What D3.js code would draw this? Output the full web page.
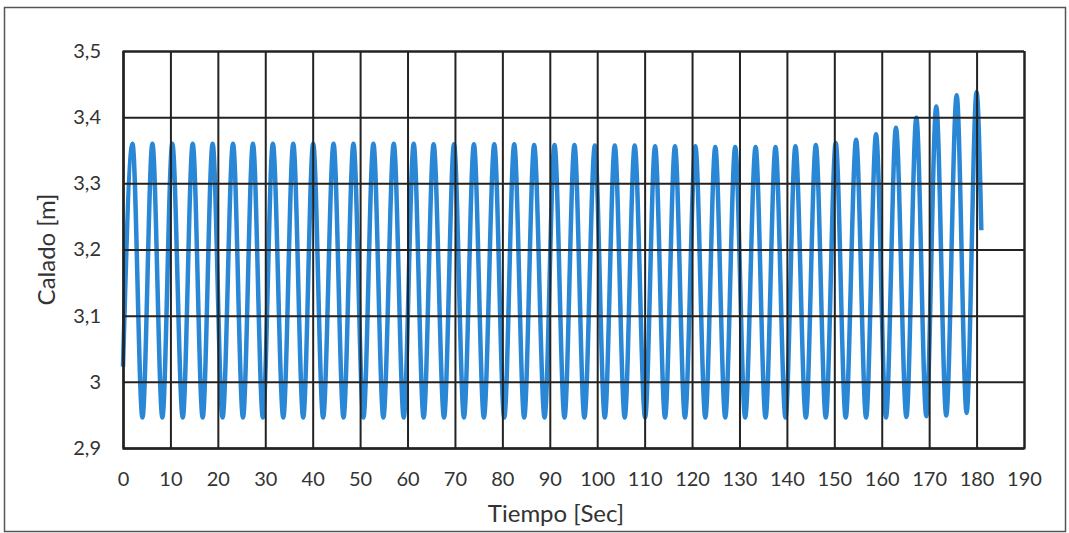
<!DOCTYPE html>
<html>
<head>
<meta charset="utf-8">
<script src="https://cdn.jsdelivr.net/npm/d3@7"></script>
<style>
body{margin:0;background:#fff;}
</style>
</head>
<body>
<div id="chart"></div>
<script>
// values (seconds, metres)
const peakTimes = [2.0, 6.2, 10.4, 14.7, 18.9, 23.2, 27.4, 31.6, 35.9, 40.1,
                   44.4, 48.6, 52.8, 57.1, 61.3, 65.5, 69.8, 74.0, 78.3, 82.5,
                   86.7, 91.0, 95.2, 99.5, 103.7, 107.9, 112.2, 116.4, 120.7, 124.9,
                   129.1, 133.4, 137.6, 141.8, 146.1, 150.3, 154.6, 158.8, 163.0, 167.3,
                   171.5, 175.8, 180.0]
const peakValues = [3.360, 3.360, 3.360, 3.360, 3.360, 3.360, 3.360, 3.360, 3.360, 3.360,
                    3.360, 3.360, 3.360, 3.360, 3.360, 3.359, 3.359, 3.359, 3.359, 3.359,
                    3.358, 3.358, 3.358, 3.357, 3.357, 3.357, 3.356, 3.356, 3.356, 3.355,
                    3.355, 3.355, 3.355, 3.356, 3.358, 3.361, 3.366, 3.374, 3.384, 3.399,
                    3.416, 3.433, 3.438]
const troughTimes = [4.1, 8.3, 12.6, 16.8, 21.0, 25.3, 29.5, 33.8, 38.0, 42.2,
                     46.5, 50.7, 54.9, 59.2, 63.4, 67.7, 71.9, 76.1, 80.4, 84.6,
                     88.9, 93.1, 97.3, 101.6, 105.8, 110.1, 114.3, 118.5, 122.8, 127.0,
                     131.2, 135.5, 139.7, 144.0, 148.2, 152.4, 156.7, 160.9, 165.2, 169.4,
                     173.6, 177.9]
const troughValues = [2.946, 2.946, 2.946, 2.946, 2.946, 2.946, 2.946, 2.946, 2.946, 2.946,
                      2.946, 2.946, 2.946, 2.946, 2.946, 2.946, 2.946, 2.946, 2.946, 2.946,
                      2.946, 2.946, 2.946, 2.946, 2.946, 2.946, 2.946, 2.946, 2.946, 2.946,
                      2.946, 2.946, 2.946, 2.946, 2.946, 2.946, 2.946, 2.946, 2.947, 2.948,
                      2.949, 2.953]
const startTime = 0, startValue = 3.023
const endTime = 181.0, endValue = 3.229

const xTicks = [0, 10, 20, 30, 40, 50, 60, 70, 80, 90, 100, 110, 120, 130, 140, 150, 160, 170, 180, 190]
const yTicks = [2.9, 3.0, 3.1, 3.2, 3.3, 3.4, 3.5]

const width = 1069, height = 533
const margin = {left: 123, right: 45, top: 51, bottom: 85}
const font = 'Lato, "Open Sans", sans-serif'

// join peaks and troughs into one series ordered by time
let series = [[startTime, startValue]]
peakTimes.forEach((t, i) => series.push([t, peakValues[i]]))
troughTimes.forEach((t, i) => series.push([t, troughValues[i]]))
series.push([endTime, endValue])
series.sort((a, b) => a[0] - b[0])

const svg = d3.select('#chart')
              .append('svg')
              .attr('width', width)
              .attr('height', height)

// outer chart frame
svg.append('rect')
   .attr('x', 4.5)
   .attr('y', 7.5)
   .attr('width', 1061)
   .attr('height', 524)
   .attr('fill', 'white')
   .attr('stroke', '#555')
   .attr('stroke-width', 1.5)

const x = d3.scaleLinear()
            .domain([0, 190])
            .range([margin.left, width - margin.right])
const y = d3.scaleLinear()
            .domain([2.9, 3.5])
            .range([height - margin.bottom, margin.top])

const comma = d3.formatLocale({decimal: ',', thousands: '.', grouping: [3], currency: ['', '']})
const yFmt = comma.format('.1~f')

// the wave
const line = d3.line()
               .x(d => x(d[0]))
               .y(d => y(d[1]))
               .curve(d3.curveMonotoneX)

svg.append('path')
   .datum(series)
   .attr('fill', 'none')
   .attr('stroke', '#2a87d6')
   .attr('stroke-width', 4.5)
   .attr('stroke-linejoin', 'round')
   .attr('d', line)

// grid (drawn over the wave, as in the picture)
svg.append('g')
   .attr('transform', `translate(0,${height - margin.bottom})`)
   .call(d3.axisBottom(x).tickValues(xTicks)
           .tickSize(-(height - margin.top - margin.bottom))
           .tickFormat(d => d)
           .tickPadding(24))
   .call(g => g.select('.domain').attr('stroke', '#222').attr('stroke-width', 2))
   .call(g => g.selectAll('.tick line').attr('stroke', '#222').attr('stroke-width', 2))
   .call(g => g.selectAll('.tick text')
               .attr('fill', '#333')
               .attr('font-family', font)
               .attr('font-size', '20px'))

svg.append('g')
   .attr('transform', `translate(${margin.left},0)`)
   .call(d3.axisLeft(y).tickValues(yTicks)
           .tickSize(-(width - margin.left - margin.right))
           .tickFormat(yFmt)
           .tickPadding(22))
   .call(g => g.select('.domain').attr('stroke', '#222').attr('stroke-width', 2))
   .call(g => g.selectAll('.tick line').attr('stroke', '#222').attr('stroke-width', 2))
   .call(g => g.selectAll('.tick text')
               .attr('fill', '#333')
               .attr('font-family', font)
               .attr('font-size', '20px'))

// axis titles
svg.append('text')
   .attr('x', 556)
   .attr('y', 522)
   .attr('text-anchor', 'middle')
   .attr('fill', '#333')
   .attr('font-family', font)
   .attr('font-size', '24px')
   .text('Tiempo [Sec]')

svg.append('text')
   .attr('transform', `translate(55,${(margin.top + height - margin.bottom) / 2}) rotate(-90)`)
   .attr('text-anchor', 'middle')
   .attr('fill', '#333')
   .attr('font-family', font)
   .attr('font-size', '24px')
   .text('Calado [m]')
</script>
</body>
</html>
